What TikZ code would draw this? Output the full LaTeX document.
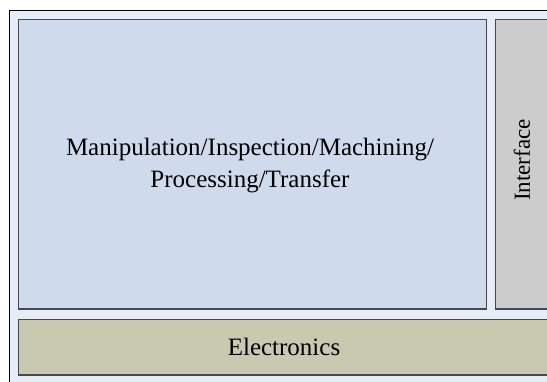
\documentclass[tikz,border=0pt]{standalone}
\usepackage{fontspec}
\setmainfont{Liberation Serif}
\definecolor{framebg}{RGB}{231,237,247}
\definecolor{mainfill}{RGB}{207,218,236}
\definecolor{ifacefill}{RGB}{204,204,204}
\definecolor{elecfill}{RGB}{200,201,176}
\definecolor{edge}{RGB}{70,72,80}
\begin{document}
\begin{tikzpicture}[x=1pt,y=-1pt,
  panel/.style={draw=edge,line width=1.3pt},
  lbl/.style={font=\fontsize{25}{32}\selectfont,align=center,inner sep=0pt}]
\useasboundingbox (0,0) rectangle (547,381);
% outer frame, running off the right and bottom edges
\fill[white] (0,0) rectangle (547,381);
\draw[fill=framebg,line width=0.9pt] (9.5,10) rectangle (570,400);
% the three blocks
\draw[panel,fill=mainfill] (18.5,19.5) rectangle (486.5,309);
\node[lbl] (main) at (250,166) {Manipulation/Inspection/Machining/\\Processing/Transfer};
\draw[panel,fill=ifacefill] (495.5,19.5) rectangle (552,309);
\node[lbl,rotate=90,font=\fontsize{23}{28}\selectfont] (iface) at (522,160) {Interface};
\draw[panel,fill=elecfill] (18.5,319.5) rectangle (552,375);
\node[lbl] (elec) at (284,347) {Electronics};
\end{tikzpicture}
\end{document}
